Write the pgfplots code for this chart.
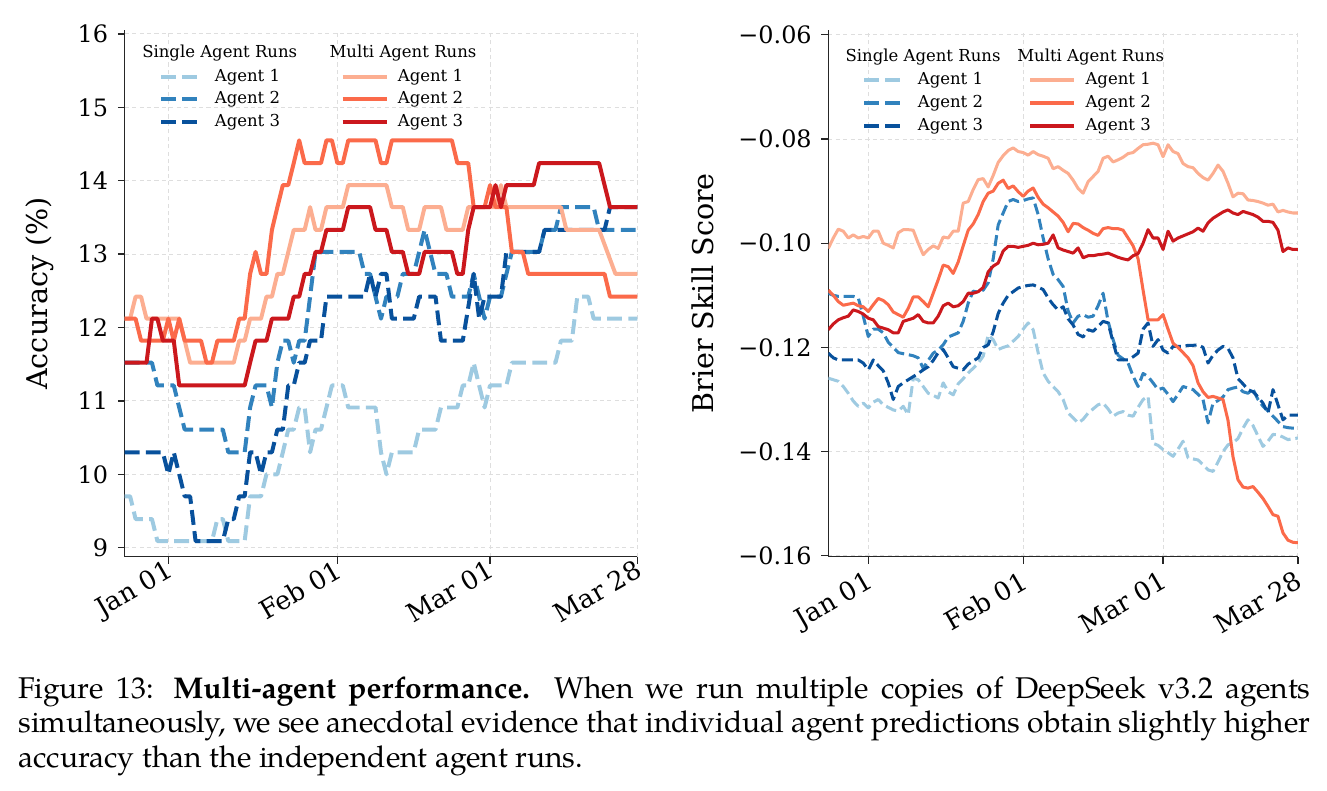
\documentclass[border=0pt]{standalone}
\usepackage{pgfplots}
\pgfplotsset{compat=1.18}
\usepackage{pgfplotstable}
\usepackage{fontspec}
\setmainfont{DejaVu Serif}
\newfontfamily\capfont{TeX Gyre Pagella}

\definecolor{bluA}{HTML}{9ECAE1}
\definecolor{bluB}{HTML}{3182BD}
\definecolor{bluC}{HTML}{08519C}
\definecolor{redA}{HTML}{FCAE91}
\definecolor{redB}{HTML}{FB6A4A}
\definecolor{redC}{HTML}{CB181D}

% Brier skill score, day offset from Jan 01
\pgfplotstableread{
d  s1 s2 s3 m1 m2 m3
-8 -0.1259 -0.1096 -0.1211 -0.1010 -0.1090 -0.1166
-7 -0.1262 -0.1100 -0.1220 -0.0990 -0.1100 -0.1155
-6 -0.1265 -0.1102 -0.1224 -0.0973 -0.1112 -0.1147
-5 -0.1275 -0.1102 -0.1224 -0.0977 -0.1119 -0.1143
-4 -0.1288 -0.1102 -0.1224 -0.0990 -0.1117 -0.1140
-3 -0.1303 -0.1102 -0.1224 -0.0984 -0.1115 -0.1128
-2 -0.1313 -0.1105 -0.1224 -0.0990 -0.1120 -0.1131
-1 -0.1307 -0.1140 -0.1230 -0.0987 -0.1122 -0.1136
0 -0.1316 -0.1179 -0.1243 -0.0990 -0.1131 -0.1144
1 -0.1305 -0.1165 -0.1224 -0.0977 -0.1118 -0.1147
2 -0.1300 -0.1165 -0.1235 -0.0977 -0.1106 -0.1160
3 -0.1310 -0.1172 -0.1245 -0.1000 -0.1110 -0.1163
4 -0.1315 -0.1190 -0.1268 -0.1004 -0.1118 -0.1166
5 -0.1320 -0.1200 -0.1300 -0.1009 -0.1132 -0.1172
6 -0.1322 -0.1210 -0.1275 -0.0980 -0.1137 -0.1172
7 -0.1313 -0.1212 -0.1268 -0.0974 -0.1142 -0.1150
8 -0.1329 -0.1214 -0.1262 -0.0974 -0.1125 -0.1147
9 -0.1259 -0.1216 -0.1256 -0.0975 -0.1103 -0.1144
10 -0.1262 -0.1220 -0.1250 -0.1000 -0.1103 -0.1137
11 -0.1275 -0.1240 -0.1243 -0.1022 -0.1112 -0.1150
12 -0.1288 -0.1225 -0.1237 -0.1012 -0.1122 -0.1153
13 -0.1292 -0.1211 -0.1225 -0.1005 -0.1096 -0.1153
14 -0.1297 -0.1205 -0.1210 -0.1010 -0.1070 -0.1140
15 -0.1268 -0.1195 -0.1204 -0.0988 -0.1042 -0.1120
16 -0.1285 -0.1180 -0.1220 -0.0990 -0.1045 -0.1115
17 -0.1291 -0.1176 -0.1237 -0.0977 -0.1058 -0.1122
18 -0.1270 -0.1172 -0.1240 -0.0977 -0.1036 -0.1120
19 -0.1260 -0.1150 -0.1243 -0.0923 -0.1005 -0.1112
20 -0.1249 -0.1115 -0.1232 -0.0920 -0.0975 -0.1096
21 -0.1240 -0.1092 -0.1226 -0.0897 -0.0963 -0.1096
22 -0.1230 -0.1094 -0.1220 -0.0878 -0.0945 -0.1093
23 -0.1217 -0.1090 -0.1200 -0.0876 -0.0920 -0.1085
24 -0.1176 -0.1076 -0.1195 -0.0892 -0.0904 -0.1055
25 -0.1185 -0.1030 -0.1170 -0.0870 -0.0900 -0.1044
26 -0.1204 -0.0965 -0.1135 -0.0845 -0.0885 -0.1038
27 -0.1200 -0.0942 -0.1115 -0.0832 -0.0879 -0.1015
28 -0.1197 -0.0920 -0.1100 -0.0822 -0.0895 -0.1006
29 -0.1188 -0.0916 -0.1093 -0.0817 -0.0890 -0.1006
30 -0.1179 -0.0920 -0.1086 -0.0824 -0.0901 -0.1008
31 -0.1165 -0.0918 -0.1083 -0.0826 -0.0910 -0.1006
32 -0.1153 -0.0915 -0.1081 -0.0831 -0.0900 -0.1004
33 -0.1166 -0.0913 -0.1080 -0.0824 -0.0894 -0.1000
34 -0.1210 -0.0945 -0.1084 -0.0830 -0.0912 -0.1003
35 -0.1249 -0.0990 -0.1089 -0.0833 -0.0925 -0.1002
36 -0.1265 -0.1030 -0.1105 -0.0837 -0.0932 -0.1000
37 -0.1275 -0.1060 -0.1118 -0.0857 -0.0940 -0.0984
38 -0.1285 -0.1070 -0.1128 -0.0853 -0.0948 -0.1009
39 -0.1300 -0.1083 -0.1122 -0.0860 -0.0960 -0.1013
40 -0.1326 -0.1130 -0.1145 -0.0866 -0.0978 -0.1016
41 -0.1335 -0.1153 -0.1157 -0.0879 -0.0962 -0.1019
42 -0.1345 -0.1140 -0.1175 -0.0895 -0.0963 -0.1009
43 -0.1338 -0.1137 -0.1180 -0.0904 -0.0970 -0.1028
44 -0.1326 -0.1142 -0.1166 -0.0882 -0.0975 -0.1024
45 -0.1318 -0.1140 -0.1169 -0.0872 -0.0981 -0.1024
46 -0.1310 -0.1120 -0.1160 -0.0862 -0.0985 -0.1022
47 -0.1307 -0.1096 -0.1150 -0.0837 -0.0972 -0.1021
48 -0.1318 -0.1150 -0.1153 -0.0833 -0.0970 -0.1019
49 -0.1332 -0.1185 -0.1190 -0.0844 -0.0972 -0.1023
50 -0.1326 -0.1215 -0.1224 -0.0840 -0.0972 -0.1027
51 -0.1323 -0.1222 -0.1224 -0.0835 -0.0975 -0.1030
52 -0.1330 -0.1230 -0.1224 -0.0828 -0.0990 -0.1032
53 -0.1332 -0.1255 -0.1218 -0.0826 -0.1005 -0.1024
54 -0.1315 -0.1275 -0.1211 -0.0818 -0.1030 -0.1020
55 -0.1300 -0.1250 -0.1165 -0.0811 -0.1090 -0.1000
56 -0.1294 -0.1256 -0.1153 -0.0810 -0.1147 -0.0974
57 -0.1384 -0.1268 -0.1198 -0.0808 -0.1147 -0.0990
58 -0.1388 -0.1281 -0.1185 -0.0811 -0.1147 -0.0990
59 -0.1396 -0.1278 -0.1205 -0.0834 -0.1137 -0.1012
60 -0.1402 -0.1290 -0.1211 -0.0811 -0.1165 -0.0977
61 -0.1409 -0.1304 -0.1198 -0.0824 -0.1192 -0.0996
62 -0.1395 -0.1290 -0.1198 -0.0828 -0.1200 -0.0990
63 -0.1380 -0.1275 -0.1198 -0.0847 -0.1210 -0.0986
64 -0.1412 -0.1278 -0.1196 -0.0853 -0.1220 -0.0982
65 -0.1414 -0.1281 -0.1196 -0.0855 -0.1235 -0.0978
66 -0.1416 -0.1290 -0.1195 -0.0866 -0.1268 -0.0971
67 -0.1425 -0.1300 -0.1200 -0.0874 -0.1285 -0.0977
68 -0.1435 -0.1345 -0.1230 -0.0879 -0.1296 -0.0961
69 -0.1438 -0.1307 -0.1215 -0.0866 -0.1294 -0.0952
70 -0.1420 -0.1302 -0.1205 -0.0850 -0.1297 -0.0946
71 -0.1400 -0.1295 -0.1198 -0.0862 -0.1300 -0.0940
72 -0.1387 -0.1281 -0.1202 -0.0885 -0.1340 -0.0936
73 -0.1383 -0.1278 -0.1220 -0.0911 -0.1410 -0.0942
74 -0.1375 -0.1276 -0.1260 -0.0904 -0.1454 -0.0945
75 -0.1355 -0.1285 -0.1270 -0.0905 -0.1468 -0.0939
76 -0.1339 -0.1288 -0.1281 -0.0917 -0.1470 -0.0942
77 -0.1350 -0.1280 -0.1285 -0.0918 -0.1467 -0.0945
78 -0.1370 -0.1300 -0.1295 -0.0920 -0.1478 -0.0950
79 -0.1390 -0.1313 -0.1307 -0.0923 -0.1490 -0.0958
80 -0.1380 -0.1322 -0.1326 -0.0927 -0.1505 -0.0958
81 -0.1367 -0.1332 -0.1281 -0.0925 -0.1521 -0.0960
82 -0.1368 -0.1342 -0.1310 -0.0940 -0.1524 -0.0975
83 -0.1372 -0.1352 -0.1339 -0.0937 -0.1556 -0.1016
84 -0.1377 -0.1354 -0.1330 -0.0940 -0.1570 -0.1009
85 -0.1375 -0.1355 -0.1330 -0.0942 -0.1574 -0.1012
86 -0.1374 -0.1355 -0.1330 -0.0942 -0.1575 -0.1012
}\brierdata

\newcommand{\pxu}{0.3636pt}
\newcommand{\tickfont}{\fontsize{8.7}{10}\selectfont}
\newcommand{\datefont}{\fontsize{9.4}{11}\selectfont}
\newcommand{\labfont}{\fontsize{10.4}{12}\selectfont}
\newcommand{\legfont}{\fontsize{6}{7}\selectfont}

\pgfplotsset{
  panel/.style={
    scale only axis, anchor=south west,
    height=191.51pt,
    xmin=-8, xmax=86,
    axis x line*=bottom, axis y line*=left,
    axis line style={line width=0.55pt, black!85},
    tick align=outside, major tick length=2.5pt,
    tick style={line width=0.45pt, black!85},
    xtick={0,31,59,86},
    xticklabels={Jan 01,Feb 01,Mar 01,Mar 28},
    tick label style={font=\tickfont},
    grid=major,
    major grid style={dash pattern=on 1.5pt off 1.2pt, line width=0.35pt, black!13},
    clip=true,
  },
}

\begin{document}
\begin{tikzpicture}
\useasboundingbox (0,0) rectangle (482.5pt,-287.6pt);

% ---------- accuracy panel ----------
\begin{axis}[panel, at={(45.34pt,-202.42pt)}, width=186.38pt,
  ymin=8.877, ymax=16.053,
  ytick={9,10,11,12,13,14,15,16},
  yticklabels={9,10,11,12,13,14,15,16},
  xticklabel style={font=\datefont, yshift=6.5pt, rotate=30, anchor=north east},
  ylabel={Accuracy (\%)},
  every axis y label/.style={at={(axis description cs:-0.1653,0.5)}, rotate=90, anchor=center, font=\labfont},
]
\addplot[bluA, line width=1.45pt, line join=round, dash pattern=on 5.4pt off 2.3pt] coordinates {
(-8,9.70) (-7,9.70) (-6,9.39) (-3,9.39) (-2,9.09) (8,9.09) (9,9.39) (10,9.39) (11,9.09) (14,9.09)
(15,9.70) (17,9.70) (18,10.00) (20,10.00) (21,10.30) (22,10.61) (23,10.61) (24,10.91) (25,10.91)
(26,10.30) (27,10.61) (28,10.61) (29,10.91) (30,11.21) (32,11.21) (33,10.91) (38,10.91) (39,10.30)
(40,10.00) (41,10.30) (45,10.30) (46,10.61) (49,10.61) (50,10.91) (53,10.91) (54,11.21) (55,11.21)
(56,11.52) (57,11.21) (58,10.91) (59,11.21) (62,11.21) (63,11.52) (71,11.52) (72,11.82) (74,11.82)
(75,12.42) (77,12.42) (78,12.12) (86,12.12)};
\addplot[bluB, line width=1.45pt, line join=round, dash pattern=on 5.4pt off 2.3pt] coordinates {
(-8,11.52) (-3,11.52) (-2,11.21) (1,11.21) (2,10.91) (3,10.61) (10,10.61) (11,10.30) (14,10.30)
(15,10.91) (16,11.21) (18,11.21) (19,10.91) (20,11.52) (21,11.82) (22,11.82) (23,11.52) (24,11.82)
(25,11.82) (26,12.42) (27,13.03) (35,13.03) (36,12.73) (37,12.73) (38,12.42) (39,12.12) (40,12.42)
(42,12.42) (43,12.73) (45,12.73) (46,13.03) (47,13.33) (48,13.03) (49,12.73) (51,12.73) (52,12.42)
(55,12.42) (56,12.73) (57,12.42) (58,12.12) (59,12.42) (61,12.42) (62,12.73) (63,13.03) (68,13.03)
(69,13.33) (71,13.33) (72,13.64) (78,13.64) (79,13.33) (86,13.33)};
\addplot[bluC, line width=1.45pt, line join=round, dash pattern=on 5.4pt off 2.3pt] coordinates {
(-8,10.30) (-1,10.30) (0,10.00) (1,10.30) (3,9.70) (4,9.70) (5,9.09) (10,9.09) (11,9.39) (12,9.39)
(13,9.70) (14,9.70) (15,10.30) (16,10.30) (17,10.00) (18,10.30) (19,10.30) (20,10.61) (21,10.61)
(22,11.21) (23,11.21) (24,11.52) (25,11.52) (26,11.82) (28,11.82) (29,12.42) (36,12.42) (37,12.73)
(38,12.42) (39,12.73) (40,12.73) (41,12.12) (45,12.12) (46,12.42) (49,12.42) (50,11.82) (54,11.82)
(56,12.73) (57,12.12) (58,12.42) (61,12.42) (62,13.03) (68,13.03) (69,13.33) (80,13.33) (81,13.64)
(86,13.64)};
\addplot[redA, line width=1.45pt, line join=round] coordinates {
(-8,12.12) (-7,12.12) (-6,12.42) (-5,12.42) (-4,12.12) (2,12.12) (3,11.82) (4,11.52) (12,11.52)
(13,11.82) (14,11.82) (15,12.12) (17,12.12) (18,12.42) (19,12.42) (20,12.73) (21,12.73) (22,13.03)
(23,13.33) (25,13.33) (26,13.64) (27,13.33) (28,13.33) (29,13.64) (32,13.64) (33,13.94) (40,13.94)
(41,13.64) (43,13.64) (44,13.33) (46,13.33) (47,13.64) (50,13.64) (51,13.33) (54,13.33) (55,13.64)
(60,13.64) (61,13.94) (62,13.64) (72,13.64) (73,13.33) (79,13.33) (82,12.73) (86,12.73)};
\addplot[redB, line width=1.45pt, line join=round] coordinates {
(-8,12.12) (-6,12.12) (-5,11.82) (-1,11.82) (0,12.12) (1,11.82) (2,12.12) (3,11.82) (6,11.82)
(7,11.52) (8,11.52) (9,11.82) (12,11.82) (13,12.12) (14,12.12) (15,12.73) (16,13.03) (17,12.73)
(18,12.73) (19,13.33) (20,13.64) (21,13.94) (22,13.94) (23,14.24) (24,14.55) (25,14.24) (28,14.24)
(29,14.55) (30,14.55) (31,14.24) (32,14.24) (33,14.55) (38,14.55) (39,14.24) (40,14.24) (41,14.55)
(52,14.55) (53,14.24) (55,14.24) (56,13.64) (58,13.64) (59,13.94) (60,13.64) (62,13.64) (63,13.03)
(65,13.03) (66,12.73) (80,12.73) (81,12.42) (86,12.42)};
\addplot[redC, line width=1.45pt, line join=round] coordinates {
(-8,11.52) (-4,11.52) (-3,12.12) (-2,12.12) (-1,11.82) (1,11.82) (2,11.21) (14,11.21) (15,11.52)
(16,11.82) (18,11.82) (19,12.12) (22,12.12) (23,12.42) (24,12.42) (25,12.73) (26,12.73) (27,13.03)
(28,13.03) (29,13.33) (32,13.33) (33,13.64) (37,13.64) (38,13.33) (40,13.33) (41,13.03) (43,13.03)
(44,12.73) (46,12.73) (47,13.03) (52,13.03) (53,12.73) (54,12.73) (55,13.33) (56,13.64) (59,13.64)
(60,13.94) (61,13.64) (62,13.94) (67,13.94) (68,14.24) (79,14.24) (80,13.94) (81,13.64) (86,13.64)};
\end{axis}

% ---------- Brier skill score panel ----------
\begin{axis}[panel, at={(301.17pt,-202.42pt)}, width=170.78pt,
  ymin=-0.16017, ymax=-0.05908,
  ytick={-0.16,-0.14,-0.12,-0.10,-0.08,-0.06},
  yticklabels={−0.16,−0.14,−0.12,−0.10,−0.08,−0.06},
  xticklabel style={font=\datefont, yshift=2.5pt, rotate=30, anchor=north east},
  ylabel={Brier Skill Score},
  every axis y label/.style={at={(axis description cs:-0.2668,0.5)}, rotate=90, anchor=center, font=\labfont},
]
\addplot[bluA, line width=1.1pt, line join=round, dash pattern=on 4pt off 1.75pt] table[x=d, y=s1] {\brierdata};
\addplot[bluB, line width=1.1pt, line join=round, dash pattern=on 4pt off 1.75pt] table[x=d, y=s2] {\brierdata};
\addplot[bluC, line width=1.1pt, line join=round, dash pattern=on 4pt off 1.75pt] table[x=d, y=s3] {\brierdata};
\addplot[redA, line width=1.1pt, line join=round] table[x=d, y=m1] {\brierdata};
\addplot[redB, line width=1.1pt, line join=round] table[x=d, y=m2] {\brierdata};
\addplot[redC, line width=1.1pt, line join=round] table[x=d, y=m3] {\brierdata};
\end{axis}

% ---------- legends and caption (coordinates in pixels of the page) ----------
\begin{scope}[x={(\pxu,0)}, y={(0,-\pxu)}]
  \tikzset{lt/.style={anchor=west, inner sep=0pt, font=\legfont},
           dsh/.style={line width=1.45pt, dash pattern=on 5.4pt off 2.3pt},
           sld/.style={line width=1.45pt}}
  % accuracy panel legend
  \node[lt] at (141.7,53.3) {Single Agent Runs};
  \node[lt] at (329,53.3) {Multi Agent Runs};
  \draw[bluA,dsh] (161,76.7) -- (199,76.7);  \node[lt] at (214.3,76.7) {Agent 1};
  \draw[bluB,dsh] (161,99.3) -- (199,99.3);  \node[lt] at (214.3,99.3) {Agent 2};
  \draw[bluC,dsh] (161,122.3) -- (199,122.3); \node[lt] at (214.3,122.3) {Agent 3};
  \draw[redA,sld] (342.7,76.7) -- (386.7,76.7);  \node[lt] at (397.3,76.7) {Agent 1};
  \draw[redB,sld] (342.7,99.3) -- (386.7,99.3);  \node[lt] at (397.3,99.3) {Agent 2};
  \draw[redC,sld] (342.7,122.3) -- (386.7,122.3); \node[lt] at (397.3,122.3) {Agent 3};
  % Brier panel legend
  \node[lt] at (845,56.7) {Single Agent Runs};
  \node[lt] at (1016.7,56.7) {Multi Agent Runs};
  \draw[bluA,dsh] (864.3,80) -- (902.7,80);   \node[lt] at (917.3,80) {Agent 1};
  \draw[bluB,dsh] (864.3,102.7) -- (902.7,102.7); \node[lt] at (917.3,102.7) {Agent 2};
  \draw[bluC,dsh] (864.3,126) -- (902.7,126); \node[lt] at (917.3,126) {Agent 3};
  \draw[redA,sld] (1030,80) -- (1074,80);     \node[lt] at (1085,80) {Agent 1};
  \draw[redB,sld] (1030,102.7) -- (1074,102.7); \node[lt] at (1085,102.7) {Agent 2};
  \draw[redC,sld] (1030,126) -- (1074,126);   \node[lt] at (1085,126) {Agent 3};
  % caption
  \node[anchor=north west, inner sep=0pt, text width=469.8pt, align=justify,
        font=\capfont\fontsize{10.9}{12.55}\selectfont] at (18,676)
    {Figure 13: \textbf{Multi-agent performance.}\ \ When we run multiple copies of DeepSeek v3.2 agents\linebreak
     simultaneously, we see anecdotal evidence that individual agent predictions obtain slightly higher\linebreak
     accuracy than the independent agent runs.};
\end{scope}
\end{tikzpicture}
\end{document}
